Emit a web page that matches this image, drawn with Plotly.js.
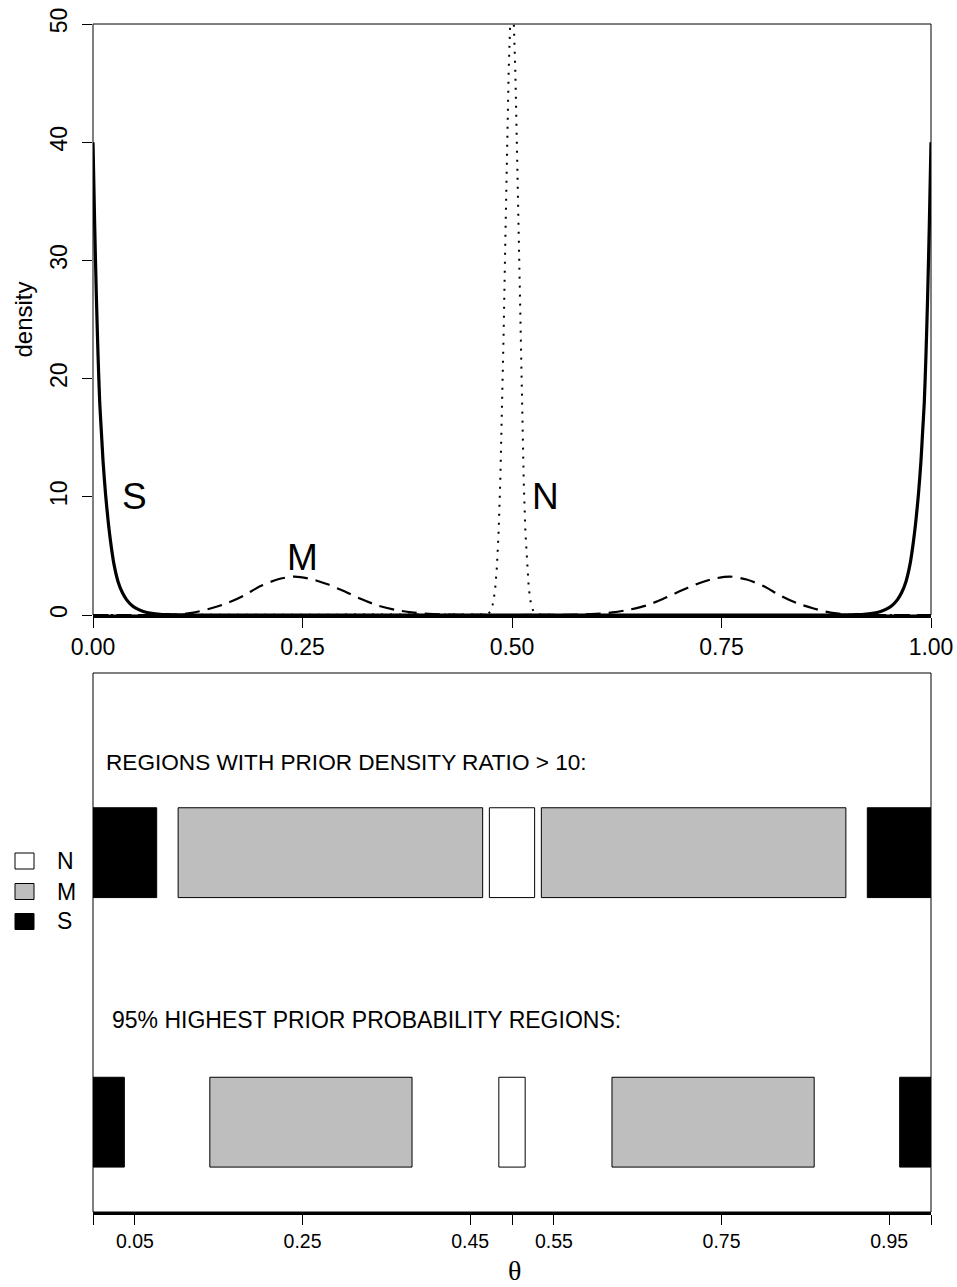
<!DOCTYPE html>
<html><head><meta charset="utf-8">
<script src="https://cdn.plot.ly/plotly-3.0.1.min.js"></script>
<style>html,body{margin:0;padding:0;background:#fff}</style>
</head><body><div id="chart" style="width:957px;height:1287px"></div>
<script>
// ---- top panel: prior densities ----
const thetaS = [0,0.002,0.004,0.006,0.008,0.010,0.012,0.015,0.018,0.021,0.025,0.03,0.035,0.04,0.045,0.05,0.06,0.07,0.08,0.09,0.1,0.12,
  0.2,0.3,0.4,0.5,0.6,0.7,0.8,0.88,
  0.9,0.91,0.92,0.93,0.94,0.95,0.955,0.96,0.965,0.97,0.975,0.979,0.982,0.985,0.988,0.99,0.992,0.994,0.996,0.998,1];
const densS = [40,33,27,22,18,15.5,13,10.2,8,6.2,4.3,2.8,1.9,1.3,0.9,0.62,0.3,0.14,0.06,0.03,0.01,0,
  0,0,0,0,0,0,0,0,
  0.01,0.03,0.06,0.14,0.3,0.62,0.9,1.3,1.9,2.8,4.3,6.2,8,10.2,13,15.5,18,22,27,33,40];

const thetaM = [0,0.06,0.08,0.10,0.12,0.14,0.16,0.18,0.20,0.22,0.24,0.26,0.28,0.30,0.32,0.34,0.36,0.38,0.40,0.42,
  0.45,0.5,0.55,0.58,
  0.60,0.62,0.64,0.66,0.68,0.70,0.72,0.74,0.76,0.78,0.80,0.82,0.84,0.86,0.88,0.90,0.92,0.94,1];
const densM = [0,0,0,0.05,0.2,0.55,1.0,1.65,2.45,3.0,3.25,3.05,2.6,2.0,1.35,0.8,0.45,0.22,0.1,0.04,
  0.01,0,0.01,0.04,
  0.1,0.22,0.45,0.8,1.35,2.0,2.6,3.05,3.25,3.0,2.45,1.65,1.0,0.55,0.2,0.05,0,0,0];

const thetaN = [0,0.45,0.47,0.474,0.476,0.478,0.48,0.482,0.484,0.486,0.488,0.49,0.492,0.494,0.496,0.498,0.5,
  0.502,0.504,0.506,0.508,0.51,0.512,0.514,0.516,0.518,0.52,0.522,0.524,0.526,0.53,0.55,1];
const densN = [0,0,0.05,0.26,0.58,1.2,2.3,4.1,7.0,11.3,16.9,23.8,31.5,39.2,45.9,50.4,52,
  50.4,45.9,39.2,31.5,23.8,16.9,11.3,7.0,4.1,2.3,1.2,0.58,0.26,0.05,0,0];

const curveLabels = ['S','M','N'];
const curveLabelTheta = [0.05,0.25,0.54];
const curveLabelDens = [10,4.85,10];

const topXTicks = [0,0.25,0.5,0.75,1];
const topXText = ['0.00','0.25','0.50','0.75','1.00'];
const topYTicks = [0,10,20,30,40,50];

// ---- bottom panel: regions ----
const row1Title = 'REGIONS WITH PRIOR DENSITY RATIO > 10:';
const row1Labels = ['S','M','N','M','S'];
const row1Start = [0,0.1016,0.473,0.535,0.924];
const row1End = [0.076,0.465,0.527,0.8984,1];

const row2Title = '95% HIGHEST PRIOR PROBABILITY REGIONS:';
const row2Labels = ['S','M','N','M','S'];
const row2Start = [0,0.1394,0.4843,0.6193,0.9626];
const row2End = [0.0374,0.3807,0.5157,0.8606,1];

const bottomTickVals = [0,0.05,0.25,0.45,0.5,0.55,0.75,0.95,1];
const bottomTickText = ['','0.05','0.25','0.45','','0.55','0.75','0.95',''];

const legendLabels = ['N','M','S'];
const fillColor = {N:'#ffffff', M:'#bebebe', S:'#000000'};

// ---- layout geometry (pixels) ----
const W = 957, H = 1287;
const px = v => v / W, py = v => (H - v) / H;
const xDom = [px(93), px(931)];
const FONT = 'Liberation Sans, Arial, Helvetica, sans-serif';

const traces = [
  {x: thetaS, y: densS, xaxis:'x', yaxis:'y', mode:'lines', line:{color:'#000', width:3.2, shape:'spline', smoothing:0.6}, hoverinfo:'skip'},
  {x: thetaM, y: densM, xaxis:'x', yaxis:'y', mode:'lines', line:{color:'#000', width:2.2, dash:'15px,8px', shape:'spline', smoothing:0.8}, hoverinfo:'skip'},
  {x: thetaN, y: densN, xaxis:'x', yaxis:'y', mode:'lines', line:{color:'#000', width:2, dash:'2px,7px'}, hoverinfo:'skip'}
];

function rowTrace(labels, starts, ends, yPos) {
  return {
    type:'bar', orientation:'h', xaxis:'x2', yaxis:'y2',
    base: starts, x: ends.map((e,i) => e - starts[i]), y: labels.map(() => yPos),
    width: 1,
    marker:{color: labels.map(l => fillColor[l]), line:{color:'#000', width:1}},
    hoverinfo:'skip'
  };
}
traces.push(rowTrace(row1Labels, row1Start, row1End, 4));
traces.push(rowTrace(row2Labels, row2Start, row2End, 1));

const annotations = [];
curveLabels.forEach((t,i) => annotations.push({
  text:t, x:curveLabelTheta[i], y:curveLabelDens[i], xref:'x', yref:'y', showarrow:false,
  font:{size:37, family:FONT, color:'#000'}, xanchor:'center', yanchor:'middle'
}));
annotations.push({text:'density', xref:'paper', yref:'paper', x:px(23), y:py(319.5), textangle:-90,
  showarrow:false, font:{size:24, family:FONT, color:'#000'}, xanchor:'center', yanchor:'middle'});
annotations.push({text:row1Title, xref:'x2', yref:'y2', x:0.013, y:5.0, showarrow:false,
  font:{size:22.6, family:FONT, color:'#000'}, xanchor:'left', yanchor:'middle'});
annotations.push({text:row2Title, xref:'x2', yref:'y2', x:0.020, y:2.14, showarrow:false,
  font:{size:23, family:FONT, color:'#000'}, xanchor:'left', yanchor:'middle'});
annotations.push({text:'θ', xref:'paper', yref:'paper', x:px(514), y:py(1270), showarrow:false,
  font:{size:28, family:'Liberation Serif, DejaVu Serif, serif', color:'#000'}, xanchor:'center', yanchor:'middle'});

const shapes = [
  {type:'rect', xref:'x domain', yref:'y domain', x0:0, x1:1, y0:0, y1:1, line:{color:'#000', width:1}, fillcolor:'rgba(0,0,0,0)'},
  {type:'rect', xref:'x2 domain', yref:'y2 domain', x0:0, x1:1, y0:0, y1:1, line:{color:'#000', width:1}, fillcolor:'rgba(0,0,0,0)'}
];
const legendCenters = [861, 891.5, 921.5];
legendLabels.forEach((l,i) => {
  shapes.push({type:'rect', xref:'paper', yref:'paper', x0:px(15), x1:px(34),
    y0:py(legendCenters[i]+8), y1:py(legendCenters[i]-8),
    line:{color:'#000', width:1}, fillcolor:fillColor[l]});
  annotations.push({text:l, xref:'paper', yref:'paper', x:px(55), y:py(legendCenters[i]), showarrow:false,
    font:{size:23, family:FONT, color:'#000'}, xanchor:'left', yanchor:'middle'});
});

const layout = {
  width:W, height:H, margin:{l:0,r:0,t:0,b:0},
  paper_bgcolor:'#fff', plot_bgcolor:'rgba(0,0,0,0)', showlegend:false, barmode:'overlay',
  font:{family:FONT, color:'#000'},
  xaxis:{domain:xDom, range:[0,1], anchor:'y', tickmode:'array', tickvals:topXTicks, ticktext:topXText,
    ticks:'outside', ticklen:10, tickwidth:1, tickcolor:'#000', showline:true, linewidth:2.5, linecolor:'#000',
    showgrid:false, zeroline:false, tickfont:{size:23, family:FONT, color:'#000'}, fixedrange:true},
  yaxis:{domain:[py(615), py(24)], range:[0,50], anchor:'x', tickmode:'array', tickvals:topYTicks,
    ticks:'outside', ticklen:10, tickwidth:1, tickcolor:'#000', tickangle:-90, showline:false,
    showgrid:false, zeroline:false, tickfont:{size:23, family:FONT, color:'#000'}, ticklabelstandoff:6, fixedrange:true},
  xaxis2:{domain:xDom, range:[0,1], anchor:'y2', tickmode:'array', tickvals:bottomTickVals, ticktext:bottomTickText,
    ticks:'outside', ticklen:10, tickwidth:1, tickcolor:'#000', showline:true, linewidth:2.5, linecolor:'#000',
    showgrid:false, zeroline:false, tickfont:{size:19.5, family:FONT, color:'#000'}, fixedrange:true},
  yaxis2:{domain:[py(1212), py(673)], range:[0,6], anchor:'x2', visible:false, fixedrange:true},
  shapes: shapes,
  annotations: annotations
};

Plotly.newPlot('chart', traces, layout, {staticPlot:true, displayModeBar:false});
</script>
</body></html>
